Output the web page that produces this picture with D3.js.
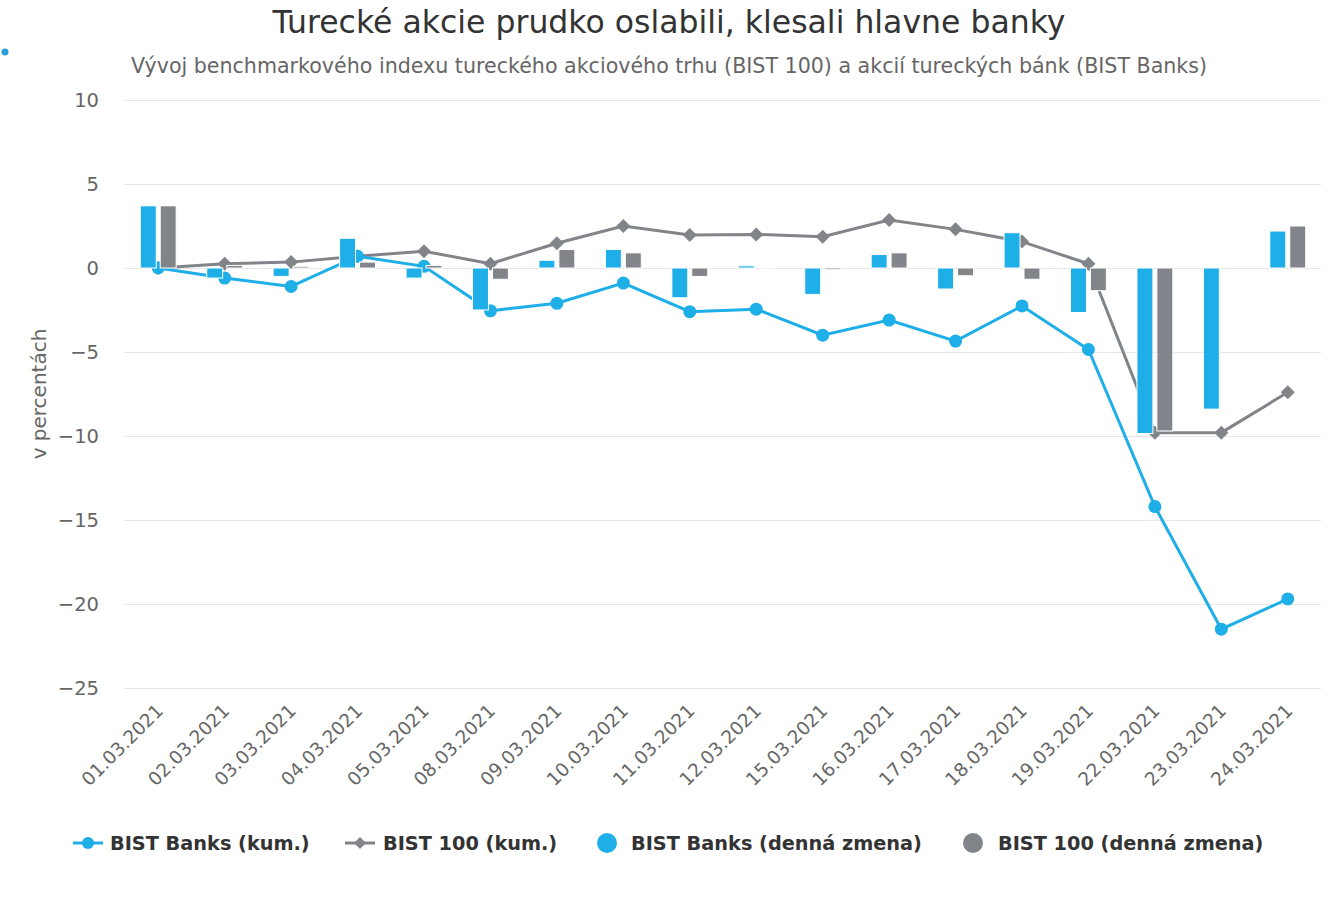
<!DOCTYPE html>
<html>
<head>
<meta charset="utf-8">
<script src="https://cdn.jsdelivr.net/npm/d3@7"></script>
<style>
  body { margin: 0; background: #fff; }
  svg { font-family: "DejaVu Sans", sans-serif; }
</style>
</head>
<body>
<div id="chart"></div>
<script>
(function(){
    // Data
    const dates = ["01.03.2021", "02.03.2021", "03.03.2021", "04.03.2021", "05.03.2021", "08.03.2021",
        "09.03.2021", "10.03.2021", "11.03.2021", "12.03.2021", "15.03.2021", "16.03.2021",
        "17.03.2021", "18.03.2021", "19.03.2021", "22.03.2021", "23.03.2021", "24.03.2021"];
    const banksCum = [0, -0.6, -1.1, 0.7, 0.1, -2.55, -2.1, -0.9, -2.6, -2.45, -4.0, -3.1,
        -4.35, -2.26, -4.85, -14.2, -21.5, -19.7];
    const bist100Cum = [0, 0.25, 0.35, 0.7, 1.0, 0.26, 1.47, 2.5, 1.96, 2.0, 1.86, 2.85,
        2.3, 1.57, 0.25, -9.8, -9.8, -7.4];
    const banksDaily = [3.7, -0.6, -0.5, 1.77, -0.6, -2.5, 0.46, 1.1, -1.77, 0.13, -1.57, 0.8,
        -1.25, 2.1, -2.65, -9.85, -8.4, 2.2];
    const bist100Daily = [3.7, 0.15, 0.1, 0.35, 0.15, -0.67, 1.1, 0.9, -0.5, 0.05, -0.1, 0.9,
        -0.46, -0.67, -1.35, -9.7, 0, 2.5];
    const yTicks = [10, 5, 0, -5, -10, -15, -20, -25];

    const blue = "#1eaee8";
    const grey = "#818489";

    const W = 1338, H = 900;
    const plot = { left: 125, right: 1321, top: 100, bottom: 688 };

    const svg = d3.select("#chart").append("svg")
        .attr("width", W)
        .attr("height", H);

    const x = d3.scaleBand()
        .domain(dates)
        .range([plot.left, plot.right])
        .paddingInner(0).paddingOuter(0);

    const y = d3.scaleLinear()
        .domain([-25, 10])
        .range([plot.bottom, plot.top]);

    // inner band for the two column series
    const inner = d3.scaleBand()
        .domain(["banks", "bist"])
        .range([x.bandwidth() * 0.2, x.bandwidth() * 0.8])
        .paddingInner(0.2).paddingOuter(0.1);

    const cx = d => x(d) + x.bandwidth() / 2;

    // Title
    svg.append("text")
        .attr("x", 669).attr("y", 33)
        .attr("text-anchor", "middle")
        .style("font-size", "31.5px")
        .style("fill", "#333")
        .text("Turecké akcie prudko oslabili, klesali hlavne banky");

    svg.append("text")
        .attr("x", 669).attr("y", 73)
        .attr("text-anchor", "middle")
        .style("font-size", "20.6px")
        .style("fill", "#666")
        .text("Vývoj benchmarkového indexu tureckého akciového trhu (BIST 100) a akcií tureckých bánk (BIST Banks)");

    svg.append("circle")
        .attr("cx", 5).attr("cy", 52).attr("r", 3.5)
        .attr("fill", "#2a9fd8");

    // Grid lines
    svg.append("g").selectAll("line")
        .data(yTicks)
        .join("line")
        .attr("x1", plot.left).attr("x2", plot.right)
        .attr("y1", d => y(d) + 0.5).attr("y2", d => y(d) + 0.5)
        .attr("stroke", "#e6e6e6")
        .attr("stroke-width", 1);

    // Y axis labels
    svg.append("g").selectAll("text")
        .data(yTicks)
        .join("text")
        .attr("x", 99)
        .attr("y", d => y(d) + 7)
        .attr("text-anchor", "end")
        .style("font-size", "19.5px")
        .style("fill", "#666")
        .text(d => d < 0 ? "\u2212" + Math.abs(d) : d);

    svg.append("text")
        .attr("transform", `translate(46, ${(plot.top + plot.bottom) / 2}) rotate(-90)`)
        .attr("text-anchor", "middle")
        .style("font-size", "20px")
        .style("fill", "#666")
        .text("v percentách");

    // X axis labels
    svg.append("g").selectAll("text")
        .data(dates)
        .join("text")
        .attr("transform", d => `translate(${cx(d) + 6}, 712) rotate(-45)`)
        .attr("text-anchor", "end")
        .style("font-size", "18.5px")
        .style("fill", "#666")
        .text(d => d);

    // Lines (drawn under the columns)
    const lineGen = d3.line().x((d, i) => cx(dates[i])).y(d => y(d));

    svg.append("path")
        .datum(bist100Cum)
        .attr("fill", "none")
        .attr("stroke", grey)
        .attr("stroke-width", 3)
        .attr("d", lineGen);

    svg.append("g").selectAll("path")
        .data(bist100Cum)
        .join("path")
        .attr("transform", (d, i) => `translate(${cx(dates[i])}, ${y(d)})`)
        .attr("d", "M0,-7L7,0L0,7L-7,0Z")
        .attr("fill", grey);

    svg.append("path")
        .datum(banksCum)
        .attr("fill", "none")
        .attr("stroke", blue)
        .attr("stroke-width", 3)
        .attr("d", lineGen);

    svg.append("g").selectAll("circle")
        .data(banksCum)
        .join("circle")
        .attr("cx", (d, i) => cx(dates[i]))
        .attr("cy", d => y(d))
        .attr("r", 6.5)
        .attr("fill", blue);

    // Columns
    function columns(values, key, color) {
        svg.append("g").selectAll("rect")
            .data(values)
            .join("rect")
            .attr("x", (d, i) => x(dates[i]) + inner(key))
            .attr("width", inner.bandwidth())
            .attr("y", d => y(Math.max(0, d)))
            .attr("height", d => Math.abs(y(d) - y(0)))
            .attr("fill", color)
            .attr("stroke", d => d === 0 ? "none" : "#fff")
            .attr("stroke-width", 1);
    }
    columns(banksDaily, "banks", blue);
    columns(bist100Daily, "bist", grey);

    // Legend
    const legend = svg.append("g").style("font-size", "19.3px").style("font-weight", "bold").style("fill", "#333");
    const ly = 843;

    const l1 = legend.append("g");
    l1.append("line").attr("x1", 73).attr("x2", 103).attr("y1", ly).attr("y2", ly)
        .attr("stroke", blue).attr("stroke-width", 3);
    l1.append("circle").attr("cx", 88).attr("cy", ly).attr("r", 6).attr("fill", blue);
    l1.append("text").attr("x", 110).attr("y", ly + 7).text("BIST Banks (kum.)");

    const l2 = legend.append("g");
    l2.append("line").attr("x1", 345).attr("x2", 375).attr("y1", ly).attr("y2", ly)
        .attr("stroke", grey).attr("stroke-width", 3);
    l2.append("path").attr("transform", `translate(360, ${ly})`).attr("d", "M0,-6L6,0L0,6L-6,0Z").attr("fill", grey);
    l2.append("text").attr("x", 383).attr("y", ly + 7).text("BIST 100 (kum.)");

    const l3 = legend.append("g");
    l3.append("circle").attr("cx", 607).attr("cy", ly).attr("r", 10).attr("fill", blue);
    l3.append("text").attr("x", 631).attr("y", ly + 7).text("BIST Banks (denná zmena)");

    const l4 = legend.append("g");
    l4.append("circle").attr("cx", 973).attr("cy", ly).attr("r", 10).attr("fill", grey);
    l4.append("text").attr("x", 998).attr("y", ly + 7).text("BIST 100 (denná zmena)");
})();
</script>
</body>
</html>
